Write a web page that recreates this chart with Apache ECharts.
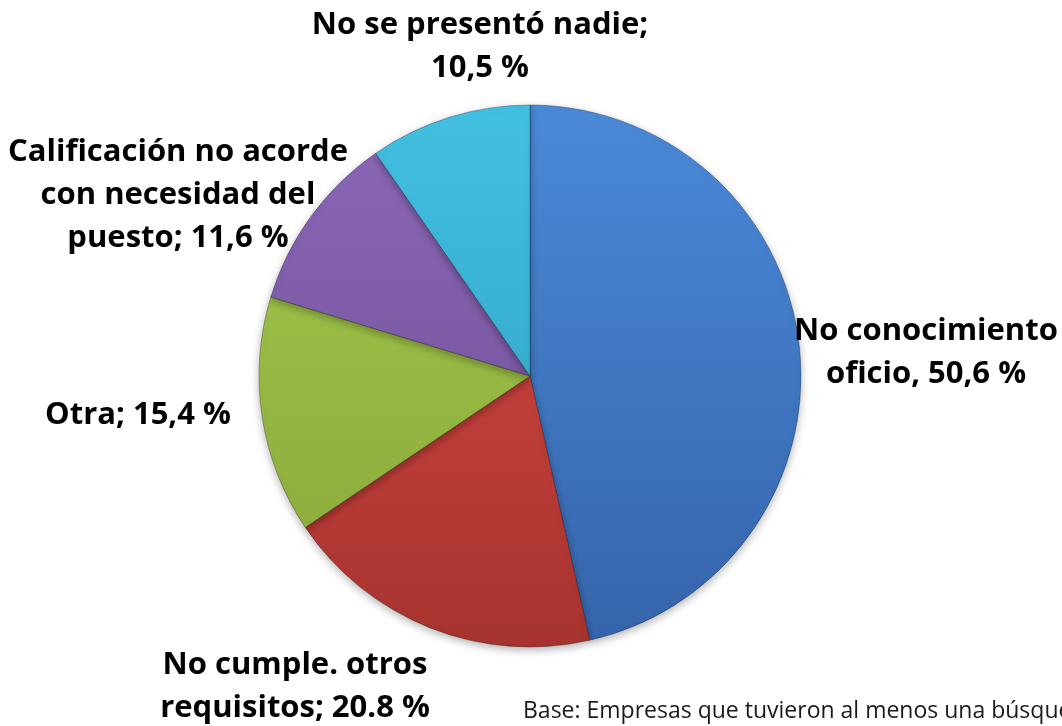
<!DOCTYPE html>
<html>
<head>
<meta charset="utf-8">
<script src="https://cdn.jsdelivr.net/npm/echarts@6/dist/echarts.min.js"></script>
<style>
html,body{margin:0;padding:0;background:#fff;}
#c{width:1062px;height:726px;}
</style>
</head>
<body>
<div id="c"></div>
<script>
var categories = [
  'No conocimiento\noficio',
  'No cumple. otros\nrequisitos',
  'Otra',
  'Calificación no acorde\ncon necesidad del\npuesto',
  'No se presentó nadie'
];
var values = [50.6, 20.8, 15.4, 11.6, 10.5];
var labelTexts = [
  'No conocimiento\noficio, 50,6 %',
  'No cumple. otros\nrequisitos; 20.8 %',
  'Otra; 15,4 %',
  'Calificación no acorde\ncon necesidad del\npuesto; 11,6 %',
  'No se presentó nadie;\n10,5 %'
];
var footnote = 'Base: Empresas que tuvieron al menos una búsqueda';

var topColors = ['#4a89d8', '#dc4a45', '#a5ca4c', '#8c68b9', '#42c0e2'];
var bottomColors = ['#3564aa', '#a6332f', '#87a63a', '#6a4b90', '#2d9bbb'];
var labelPos = [[926, 353], [295, 687], [138, 415], [178, 195], [480, 47]];

function grad(i) {
  return {
    type: 'linear', x: 0, y: 105, x2: 0, y2: 647, global: true,
    colorStops: [{offset: 0, color: topColors[i]}, {offset: 1, color: bottomColors[i]}]
  };
}

var chart = echarts.init(document.getElementById('c'), null, {renderer: 'canvas'});
chart.setOption({
  backgroundColor: '#ffffff',
  animation: false,
  graphic: [{
    type: 'text', left: 523, top: 700,
    style: {text: footnote, font: '23px "Open Sans"', fill: '#1a1a1a'}
  }],
  series: [{
    type: 'pie',
    center: [530, 376],
    radius: [0, 271],
    startAngle: 90,
    clockwise: true,
    avoidLabelOverlap: false,
    data: categories.map(function (c, i) {
      return {
        name: c, value: values[i],
        itemStyle: {color: grad(i)},
        label: {formatter: labelTexts[i]}
      };
    }),
    itemStyle: {
      borderColor: 'rgba(0,0,0,0.28)', borderWidth: 1,
      shadowBlur: 8, shadowColor: 'rgba(0,0,0,0.3)', shadowOffsetY: 3
    },
    label: {
      show: true, position: 'outside',
      color: '#000', fontFamily: 'Open Sans', fontWeight: 'bold', fontSize: 31,
      lineHeight: 43, align: 'center'
    },
    labelLine: {show: false},
    labelLayout: function (p) {
      var pos = labelPos[p.dataIndex];
      return {x: pos[0], y: pos[1], align: 'center', verticalAlign: 'middle'};
    },
    emphasis: {disabled: true}
  }]
});
</script>
</body>
</html>
